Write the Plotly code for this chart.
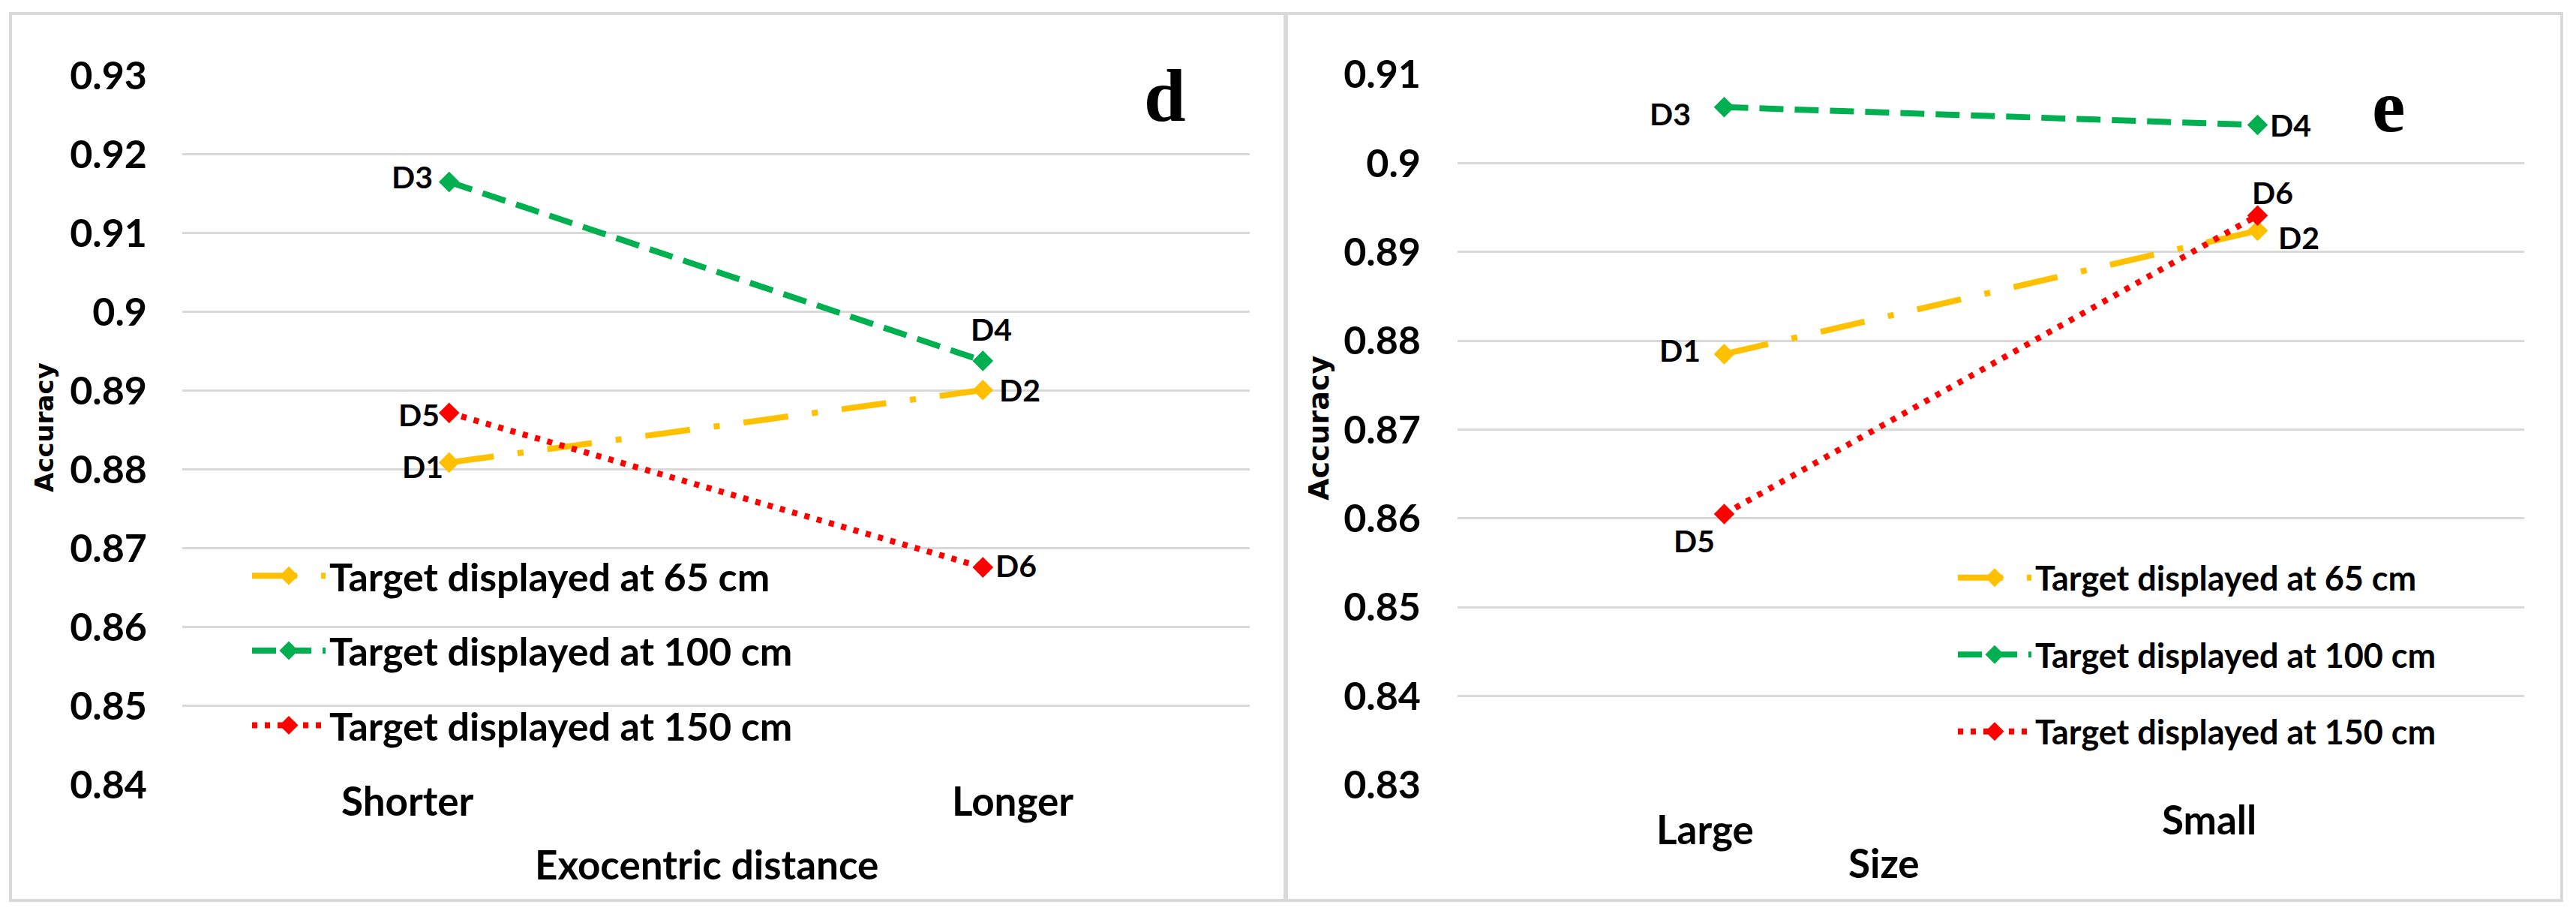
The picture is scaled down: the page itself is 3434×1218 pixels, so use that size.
import plotly.graph_objects as go

# ---------------- data ----------------
cats_d = ["Shorter", "Longer"]
cats_e = ["Large", "Small"]
series_names = ["Target displayed at 65 cm", "Target displayed at 100 cm", "Target displayed at 150 cm"]

d_65 = [0.8809, 0.8901]
d_100 = [0.9165, 0.8938]
d_150 = [0.8872, 0.8676]

e_65 = [0.8785, 0.8924]
e_100 = [0.9063, 0.9043]
e_150 = [0.8605, 0.8941]

d_point_labels = [["D1", "D2"], ["D3", "D4"], ["D5", "D6"]]
e_point_labels = [["D1", "D2"], ["D3", "D4"], ["D5", "D6"]]

yticks_d = [0.84, 0.85, 0.86, 0.87, 0.88, 0.89, 0.90, 0.91, 0.92, 0.93]
yticktext_d = ["0.84", "0.85", "0.86", "0.87", "0.88", "0.89", "0.9", "0.91", "0.92", "0.93"]
yticks_e = [0.83, 0.84, 0.85, 0.86, 0.87, 0.88, 0.89, 0.90, 0.91]
yticktext_e = ["0.83", "0.84", "0.85", "0.86", "0.87", "0.88", "0.89", "0.9", "0.91"]

panel_letters = ["d", "e"]
x_titles = ["Exocentric distance", "Size"]
y_title = "Accuracy"

# ---------------- styles ----------------
W, H = 3434, 1218
OFF = 8  # page body margin offset
def px(x):
    return (x - OFF) / W
def py(y):
    return 1 - (y - OFF) / H

colors = ["#FFC000", "#00B050", "#FF0000"]
dashes = ["60px,32px,8px,32px", "32px,15px", "7px,10px"]
LINE_W = 8
MARK = 18
GRID = "#D9D9D9"
FONT = "Lato"

# label offsets (xshift, yshift) for each series / point
d_offsets = [[(-35, -5), (49, 0)], [(-49, 7), (11, 42)], [(-40, -2), (44, 3)]]
e_offsets = [[(-59, 5), (55, -9)], [(-72, -9), (44, 0)], [(-40, -36), (20, 31)]]

fig = go.Figure()

d_series = [d_65, d_100, d_150]
e_series = [e_65, e_100, e_150]

for i in range(3):
    fig.add_trace(go.Scatter(
        x=cats_d, y=d_series[i], name=series_names[i], mode="lines+markers",
        line=dict(color=colors[i], width=LINE_W, dash=dashes[i]),
        marker=dict(symbol="diamond", size=MARK, color=colors[i],
                    line=dict(color=colors[i], width=3)),
        xaxis="x", yaxis="y", legend="legend", legendgroup="d%d" % i,
        hoverinfo="skip"))
for i in range(3):
    fig.add_trace(go.Scatter(
        x=cats_e, y=e_series[i], name=series_names[i], mode="lines+markers",
        line=dict(color=colors[i], width=LINE_W, dash=dashes[i]),
        marker=dict(symbol="diamond", size=MARK, color=colors[i],
                    line=dict(color=colors[i], width=3)),
        xaxis="x2", yaxis="y2", legend="legend2", legendgroup="e%d" % i,
        hoverinfo="skip"))

annotations = []
def ann(**kw):
    kw.setdefault("showarrow", False)
    kw.setdefault("xanchor", "center")
    kw.setdefault("yanchor", "middle")
    annotations.append(kw)

# point labels
for i in range(3):
    for j in range(2):
        dx, dy = d_offsets[i][j]
        ann(x=cats_d[j], y=d_series[i][j], xref="x", yref="y", text=d_point_labels[i][j],
            xshift=dx, yshift=dy, font=dict(family=FONT, size=41, color="black", weight="bold"))
        dx, dy = e_offsets[i][j]
        ann(x=cats_e[j], y=e_series[i][j], xref="x2", yref="y2", text=e_point_labels[i][j],
            xshift=dx, yshift=dy, font=dict(family=FONT, size=41, color="black", weight="bold"))

# category labels
cat_shift_d = [(-55, py(1066)), (40, py(1066))]
cat_shift_e = [(-26, py(1104)), (-65, py(1091))]
for j in range(2):
    ann(x=cats_d[j], y=cat_shift_d[j][1], xref="x", yref="paper", text=cats_d[j],
        xshift=cat_shift_d[j][0], font=dict(family=FONT, size=53, color="black", weight="bold"))
    ann(x=cats_e[j], y=cat_shift_e[j][1], xref="x2", yref="paper", text=cats_e[j],
        xshift=cat_shift_e[j][0], font=dict(family=FONT, size=53, color="black", weight="bold"))

# axis titles
ann(x=px(942), y=py(1151), xref="paper", yref="paper", text=x_titles[0],
    font=dict(family=FONT, size=53, color="black", weight="bold"))
ann(x=px(2511), y=py(1149), xref="paper", yref="paper", text=x_titles[1],
    font=dict(family=FONT, size=53, color="black", weight="bold"))
ann(x=px(59), y=py(570), xref="paper", yref="paper", text=y_title, textangle=-90,
    font=dict(family="DejaVu Sans", size=34, color="black", weight="bold"))
ann(x=px(1758), y=py(571), xref="paper", yref="paper", text=y_title, textangle=-90,
    font=dict(family="DejaVu Sans", size=38, color="black", weight="bold"))

# panel letters
ann(x=px(1553), y=py(128), xref="paper", yref="paper", text=panel_letters[0],
    font=dict(family="Liberation Serif", size=100, color="black", weight="bold"))
ann(x=px(3184), y=py(141), xref="paper", yref="paper", text=panel_letters[1],
    font=dict(family="Liberation Serif", size=100, color="black", weight="bold"))

shapes = [
    dict(type="rect", xref="paper", yref="paper", x0=px(14), x1=px(3415), y0=py(1200), y1=py(18),
         line=dict(color=GRID, width=4), layer="below"),
    dict(type="line", xref="paper", yref="paper", x0=px(1714), x1=px(1714), y0=py(1200), y1=py(18),
         line=dict(color=GRID, width=6), layer="below"),
]

axis_common = dict(showgrid=True, gridcolor=GRID, gridwidth=3, zeroline=False, showline=False,
                   ticks="", fixedrange=True, automargin=False)
xaxis_common = dict(type="category", range=[-0.5, 1.5], showticklabels=False, showgrid=False,
                    zeroline=False, showline=False, fixedrange=True, automargin=False)

fig.update_layout(
    width=W, height=H,
    margin=dict(l=0, r=0, t=0, b=0, autoexpand=False),
    paper_bgcolor="white", plot_bgcolor="white",
    font=dict(family=FONT, color="black"),
    xaxis=dict(domain=[px(243), px(1666)], anchor="y", **xaxis_common),
    yaxis=dict(domain=[py(1046), py(100.7)], anchor="x", range=[0.84, 0.93],
               tickvals=yticks_d, ticktext=yticktext_d, ticklabelstandoff=46,
               tickfont=dict(family=FONT, size=52, color="black", weight="bold"), **axis_common),
    xaxis2=dict(domain=[px(1943), px(3365)], anchor="y2", **xaxis_common),
    yaxis2=dict(domain=[py(1046), py(99)], anchor="x2", range=[0.83, 0.91],
                tickvals=yticks_e, ticktext=yticktext_e, ticklabelstandoff=48,
                tickfont=dict(family=FONT, size=52, color="black", weight="bold"), **axis_common),
    legend=dict(x=px(331), y=py(727), xanchor="left", yanchor="top", bgcolor="rgba(0,0,0,0)",
                itemwidth=98, tracegroupgap=29,
                font=dict(family=FONT, size=52, color="black", weight="bold")),
    legend2=dict(x=px(2605), y=py(734), xanchor="left", yanchor="top", bgcolor="rgba(0,0,0,0)",
                 itemwidth=98, tracegroupgap=41,
                 font=dict(family=FONT, size=45, color="black", weight="bold")),
    annotations=annotations,
    shapes=shapes,
)

fig.write_html("out.html")
